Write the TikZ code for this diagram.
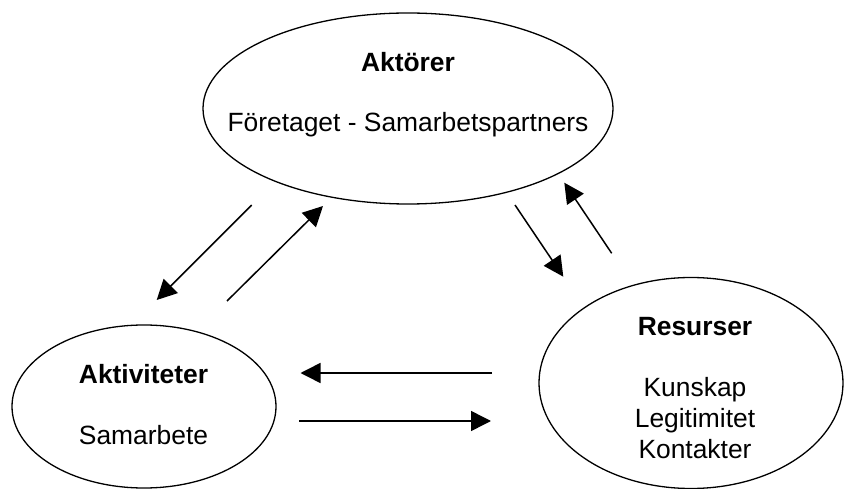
\documentclass[tikz,border=0pt]{standalone}
\usepackage{fontspec}
\setmainfont{Liberation Sans}
\usetikzlibrary{shapes.geometric,arrows.meta}
\begin{document}
\begin{tikzpicture}[x=1pt,y=-1pt,
  bubble/.style={ellipse,draw,line width=1.3pt,inner sep=0pt},
  title/.style={anchor=base,inner sep=0pt,font=\fontsize{26.4}{30}\selectfont\bfseries},
  body/.style={anchor=base,inner sep=0pt,font=\fontsize{26.4}{30}\selectfont},
  flow/.style={line width=1.5pt,-{Triangle[length=20pt,width=20pt]}}]
\useasboundingbox (0,0) rectangle (844,489);

% the three ellipses
\node[bubble,minimum width=410pt,minimum height=191pt] (akt) at (408,108.5) {};
\node[bubble,minimum width=264pt,minimum height=163pt] (act) at (144,406.5) {};
\node[bubble,minimum width=304pt,minimum height=211pt] (res) at (691,383) {};

% texts
\node[title] (aktT) at (408,71.7) {Aktörer};
\node[body]  (aktB) at (408,131.7) {Företaget - Samarbetspartners};

\node[title] (actT) at (143.5,383.3) {Aktiviteter};
\node[body]  (actB) at (143.5,444) {Samarbete};

\node[title] (resT) at (695,335.7) {Resurser};
\node[body]  (resB1) at (695,396.7) {Kunskap};
\node[body]  (resB2) at (695,427.5) {Legitimitet};
\node[body]  (resB3) at (695,458.3) {Kontakter};

% arrow end points
\coordinate (a1s) at (251.7,205);
\coordinate (a1e) at (156.7,300);
\coordinate (a2s) at (227,301);
\coordinate (a2e) at (323,206);
\coordinate (a3s) at (515,205);
\coordinate (a3e) at (563.3,276.7);
\coordinate (a4s) at (611.7,253.3);
\coordinate (a4e) at (564.3,182.7);
\coordinate (a5s) at (492,373);
\coordinate (a5e) at (300.5,373);
\coordinate (a6s) at (299.3,421);
\coordinate (a6e) at (491,421);

% exchanges between the ellipses
\draw[flow] (a1s) -- (a1e);
\draw[flow] (a2s) -- (a2e);
\draw[flow] (a3s) -- (a3e);
\draw[flow] (a4s) -- (a4e);
\draw[flow] (a5s) -- (a5e);
\draw[flow] (a6s) -- (a6e);
\end{tikzpicture}
\end{document}
